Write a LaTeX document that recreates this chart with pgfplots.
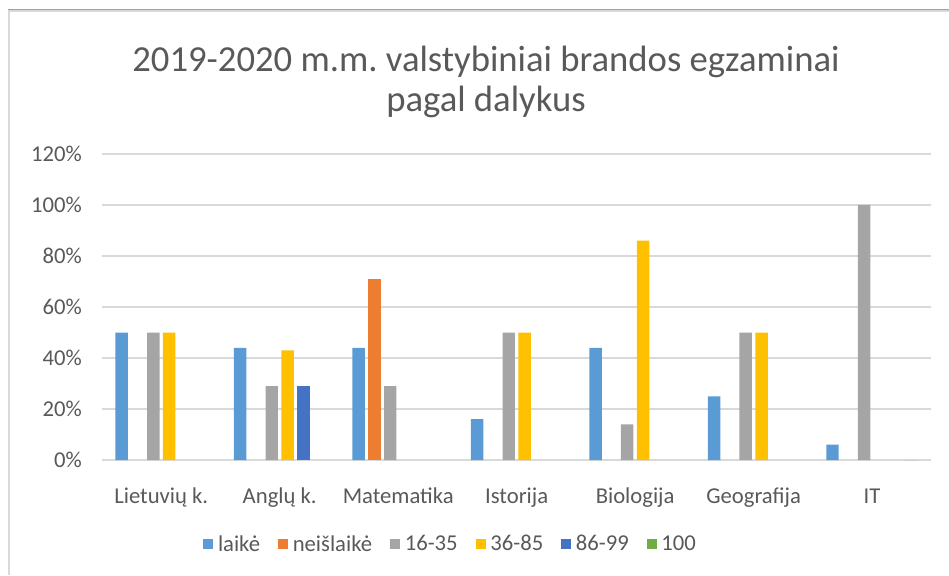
\documentclass[border=0pt]{standalone}
\usepackage{pgfplots}
\pgfplotsset{compat=1.18}
\usepackage{fontspec}
\setmainfont{Carlito}
\frenchspacing
\definecolor{cA}{HTML}{5B9BD5}
\definecolor{cB}{HTML}{ED7D31}
\definecolor{cC}{HTML}{A5A5A5}
\definecolor{cD}{HTML}{FFC000}
\definecolor{cE}{HTML}{4472C4}
\definecolor{cF}{HTML}{70AD47}
\definecolor{txt}{HTML}{595959}
\definecolor{grd}{HTML}{D9D9D9}
\begin{document}
\begin{tikzpicture}
\useasboundingbox (0pt,0pt) rectangle (711.75pt,431.25pt);
\draw[grd, line width=1.6pt] (6.9pt,0pt) -- (6.9pt,423.2pt) -- (711.75pt,423.2pt);
\draw[green!80!black!70, line width=0.8pt] (6.1pt,424.3pt) -- (711.75pt,424.3pt);
\node[text=txt,font=\fontsize{27.5}{32}\selectfont] at (364.5pt,384.75pt) {2019-2020 m.m. valstybiniai brandos egzaminai};
\node[text=txt,font=\fontsize{27.5}{32}\selectfont] at (364.5pt,354.75pt) {pagal dalykus};
\begin{axis}[
  at={(76.5pt,86.25pt)}, anchor=south west,
  scale only axis, width=622pt, height=229.5pt,
  xmin=-0.5, xmax=6.5, ymin=0, ymax=120,
  axis line style={draw=none},
  ymajorgrids, grid style={grd, line width=0.9pt},
  ytick={0,20,40,60,80,100,120},
  yticklabels={0\%,20\%,40\%,60\%,80\%,100\%,120\%},
  xtick={0,1,2,3,4,5,6},
  xticklabels={Lietuvių k.,Anglų k.,Matematika,Istorija,Biologija,Geografija,IT},
  tick style={draw=none},
  ticklabel style={text=txt, font=\fontsize{17}{20}\selectfont},
  yticklabel style={anchor=east, inner sep=0pt, xshift=-15pt},
  xticklabel style={anchor=base, inner sep=0pt, yshift=-28.5pt},
  ybar, bar width=0.105,
  legend columns=6,
  legend style={at={(0.42,-0.275)}, anchor=center, draw=none, fill=none,
    font=\fontsize{17}{20}\selectfont, text=txt,
    nodes={inner sep=1pt},
    /tikz/every odd column/.append style={column sep=2.5pt},
    /tikz/every even column/.append style={column sep=12.5pt}},
  legend image code/.code={\fill[#1] (0pt,-3.75pt) rectangle (7.5pt,3.75pt);},
]
\addplot[fill=cA, draw=none, bar shift=-0.334] coordinates {(0,50) (1,44) (2,44) (3,16) (4,44) (5,25) (6,6)};
\addplot[fill=cB, draw=none, bar shift=-0.2] coordinates {(2,71)};
\addplot[fill=cC, draw=none, bar shift=-0.067] coordinates {(0,50) (1,29) (2,29) (3,50) (4,14) (5,50) (6,100)};
\addplot[fill=cD, draw=none, bar shift=0.067] coordinates {(0,50) (1,43) (3,50) (4,86) (5,50)};
\addplot[fill=cE, draw=none, bar shift=0.2] coordinates {(1,29)};
\addplot[fill=cF, draw=none, bar shift=0.334] coordinates {(6,0)};
\legend{laikė,neišlaikė,16-35,36-85,86-99,100}
\end{axis}
\end{tikzpicture}
\end{document}
